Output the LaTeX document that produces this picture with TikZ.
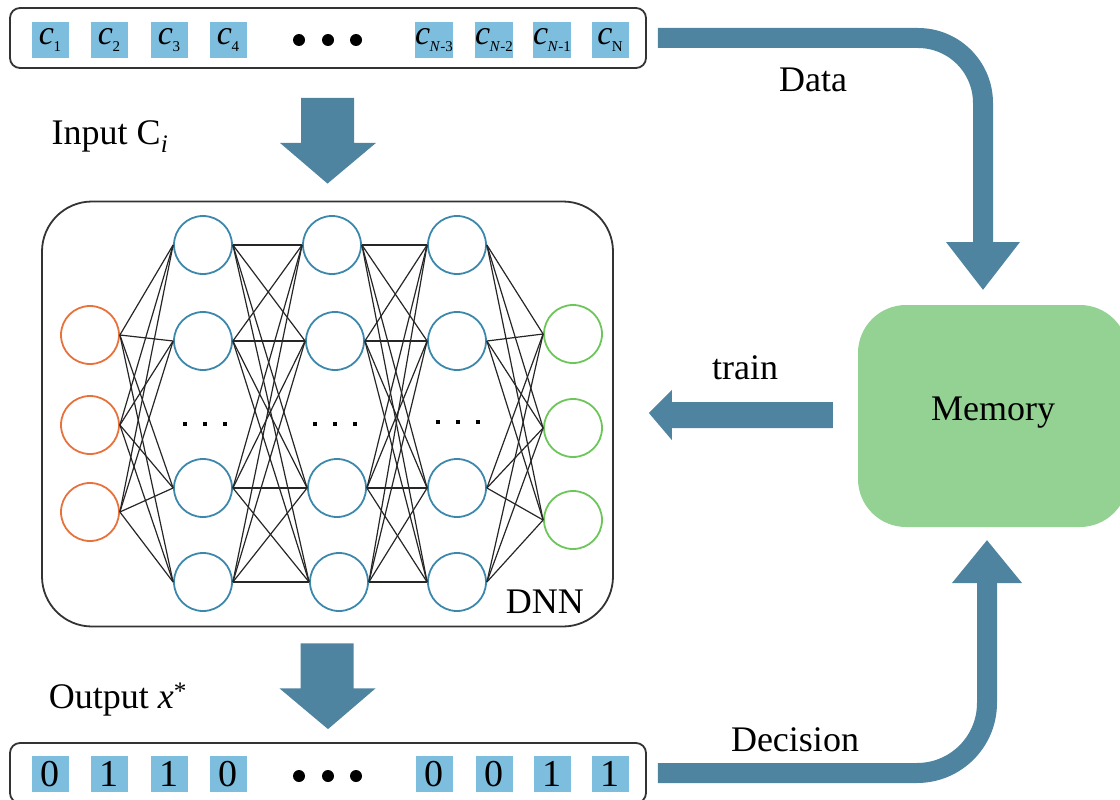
\documentclass[tikz,border=0pt]{standalone}
\usepackage{fontspec}
\setmainfont{Liberation Serif}
\usetikzlibrary{calc}
\definecolor{arr}{HTML}{4E84A0}
\definecolor{sq}{HTML}{7DBEDF}
\definecolor{hid}{HTML}{3C88AC}
\definecolor{inp}{HTML}{E8723C}
\definecolor{outc}{HTML}{6DC65A}
\definecolor{mem}{HTML}{94D294}
\newcommand{\csubx}[1]{\textit{c}\kern-0.5pt\raisebox{-7pt}{\fontsize{15}{15}\selectfont #1}}
\tikzset{
  bar/.style={draw=black!80, line width=1.8pt, rounded corners=10pt, inner sep=0pt},
  sqbox/.style={fill=sq, minimum width=37pt, minimum height=36pt, inner sep=0pt, font=\fontsize{34}{34}\selectfont},
  digbox/.style={sqbox, font=\fontsize{38}{38}\selectfont},
  neuron/.style={circle, draw, line width=1.8pt, minimum size=58pt, inner sep=0pt},
  lbl/.style={font=\fontsize{36}{36}\selectfont, inner sep=0pt},
  link/.style={black!85, line width=1.2pt},
  fatarrow/.style={arr, line width=20pt},
}
\begin{document}
\begin{tikzpicture}[x=1pt,y=-1pt]
\useasboundingbox (0,0) rectangle (1120,800);
% bars
\node[bar, minimum width=636pt, minimum height=60pt] (top) at (328,38) {};
\node[bar, minimum width=636pt, minimum height=60pt] (bot) at (328,773) {};
% top squares
\node[sqbox] (c1) at (50,40) {\csubx{1}};
\node[sqbox] (c2) at (109,40) {\csubx{2}};
\node[sqbox] (c3) at (169,40) {\csubx{3}};
\node[sqbox] (c4) at (228,40) {\csubx{4}};
\node[sqbox] (cn3) at (434,40) {\csubx{\textit{N}-3}};
\node[sqbox] (cn2) at (494,40) {\csubx{\textit{N}-2}};
\node[sqbox] (cn1) at (552,40) {\csubx{\textit{N}-1}};
\node[sqbox] (cn) at (610,40) {\csubx{N}};
\foreach \x in {299,328,356} \fill (\x,40) circle (6pt);
% bottom squares
\node[digbox] (b1) at (50,774) {0};
\node[digbox] (b2) at (109,774) {1};
\node[digbox] (b3) at (169,774) {1};
\node[digbox] (b4) at (228,774) {0};
\node[digbox] (b5) at (434,774) {0};
\node[digbox] (b6) at (494,774) {0};
\node[digbox] (b7) at (552,774) {1};
\node[digbox] (b8) at (610,774) {1};
\foreach \x in {299,328,356} \fill (\x,776) circle (6pt);
% DNN box
\node[draw=black!80, line width=1.8pt, rounded corners=50pt, minimum width=571pt, minimum height=425pt, inner sep=0pt] (dnn) at (327.5,414) {};
\node[lbl, anchor=south east] (dnnlbl) at (584,614) {DNN};
% neurons
\node[neuron, draw=inp] (i1) at (90,335) {};
\node[neuron, draw=inp] (i2) at (90,425) {};
\node[neuron, draw=inp] (i3) at (90,512) {};
\node[neuron, draw=hid] (a1) at (203,245) {};
\node[neuron, draw=hid] (a2) at (203,341) {};
\node[neuron, draw=hid] (a3) at (203,488) {};
\node[neuron, draw=hid] (a4) at (203,582) {};
\node[neuron, draw=hid] (b1n) at (332,245) {};
\node[neuron, draw=hid] (b2n) at (335,341) {};
\node[neuron, draw=hid] (b3n) at (337,488) {};
\node[neuron, draw=hid] (b4n) at (339,582) {};
\node[neuron, draw=hid] (d1) at (457,245) {};
\node[neuron, draw=hid] (d2) at (457,341) {};
\node[neuron, draw=hid] (d3) at (457,488) {};
\node[neuron, draw=hid] (d4) at (457,582) {};
\node[neuron, draw=outc] (o1) at (573,334) {};
\node[neuron, draw=outc] (o2) at (573,428) {};
\node[neuron, draw=outc] (o3) at (573,520) {};
\foreach \x in {183,203,223} \fill (\x,422) rectangle ++(4,4);
\foreach \x in {313,333,353} \fill (\x,422) rectangle ++(4,4);
\foreach \x in {436,456,476} \fill (\x,420) rectangle ++(4,4);
% links
\foreach \s in {i1,i2,i3} \foreach \t in {a1,a2,a3,a4} \draw[link] (\s.east) -- (\t.west);
\foreach \s in {a1,a2,a3,a4} \foreach \t in {b1n,b2n,b3n,b4n} \draw[link] (\s.east) -- (\t.west);
\foreach \s in {b1n,b2n,b3n,b4n} \foreach \t in {d1,d2,d3,d4} \draw[link] (\s.east) -- (\t.west);
\foreach \s in {d1,d2,d3,d4} \foreach \t in {o1,o2,o3} \draw[link] (\s.east) -- (\t.west);
% memory
\node[fill=mem, rounded corners=48pt, minimum width=270pt, minimum height=222pt, inner sep=0pt] (mem) at (993,416) {};
\node[lbl] (memlbl) at (993,413) {Memory};
% labels
\node[lbl] (inlbl) at (110,137) {Input C\textsubscript{\textit{i}}};
\node[lbl] (outlbl) at (118,700) {Output \textit{x}\textsuperscript{*}};
\node[lbl] (datalbl) at (813,80) {Data};
\node[lbl] (trainlbl) at (745,368) {train};
\node[lbl] (declbl) at (795,740) {Decision};
% input / output arrows
\coordinate (inA) at ($(top.south)+(0,29)$);
\fill[arr] ($(inA)+(-27,0)$) -- ($(inA)+(26,0)$) -- ($(inA)+(26,45)$) -- ($(inA)+(48,45)$) -- ($(dnn.north)+(0,-17)$) -- ($(inA)+(-48,45)$) -- ($(inA)+(-27,45)$) -- cycle;
\coordinate (outA) at ($(dnn.south)+(0,16)$);
\fill[arr] ($(outA)+(-27,0)$) -- ($(outA)+(26,0)$) -- ($(outA)+(26,45)$) -- ($(outA)+(48,45)$) -- ($(bot.north)+(0,-13)$) -- ($(outA)+(-48,45)$) -- ($(outA)+(-27,45)$) -- cycle;
% train arrow
\coordinate (trS) at ($(mem.west)+(-25,0)$);
\fill[arr] ($(trS)+(0,-14)$) -- ($(trS)+(-161,-14)$) -- ($(trS)+(-161,-26)$) -- ($(dnn.east)+(35,-1)$) -- ($(trS)+(-161,24)$) -- ($(trS)+(-161,12)$) -- ($(trS)+(0,12)$) -- cycle;
% data arrow
\coordinate (dS) at ($(top.east)+(11,0)$);
\coordinate (dE) at (983,243);
\draw[fatarrow, rounded corners=65pt] (dS) -| (dE);
\fill[arr] ($(dE)+(-37,-1)$) -- ($(dE)+(37,-1)$) -- ($(mem.north)+(-10,-15)$) -- cycle;
% decision arrow
\coordinate (eS) at ($(bot.east)+(11,0)$);
\coordinate (eE) at (987,582);
\draw[fatarrow, rounded corners=70pt] (eS) -| (eE);
\fill[arr] ($(eE)+(-35,1)$) -- ($(eE)+(35,1)$) -- ($(mem.south)+(-6,13)$) -- cycle;
\end{tikzpicture}
\end{document}
